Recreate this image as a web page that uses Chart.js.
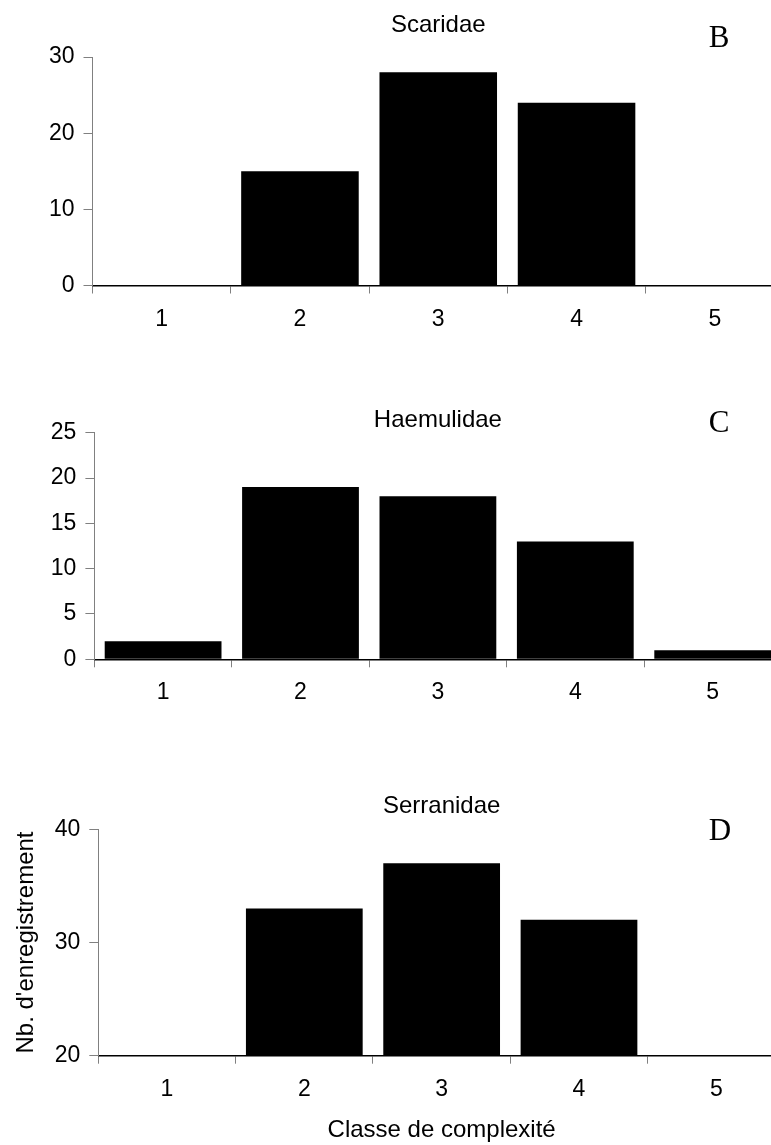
<!DOCTYPE html>
<html>
<head>
<meta charset="utf-8">
<script src="https://cdn.jsdelivr.net/npm/chart.js@4.4.0/dist/chart.umd.min.js"></script>
<style>
  html, body { margin: 0; padding: 0; background: #fff; overflow: hidden; }
  body { width: 771px; height: 1145px; position: relative; }
  canvas { position: absolute; left: 0; }
</style>
</head>
<body>
<canvas id="chartB" width="800" height="332" style="top:0px"></canvas>
<canvas id="chartC" width="800" height="355" style="top:350px"></canvas>
<canvas id="chartD" width="800" height="406" style="top:740px"></canvas>
<script>
// Complexity classes shared by the three panels
const categories = ['1', '2', '3', '4', '5'];

// Records per complexity class
const scaridae = [0, 15, 28, 24, 0];
const haemulidae = [2, 19, 18, 13, 1];
const serranidae = [0, 33, 37, 32, 0];   // classes 1 and 5 sit below the axis floor (20)

// y tick values per panel
const yTicksB = [0, 10, 20, 30];
const yTicksC = [0, 5, 10, 15, 20, 25];
const yTicksD = [20, 30, 40];

const SANS = '"Liberation Sans", Arial, sans-serif';
const SERIF = '"Liberation Serif", "Times New Roman", serif';

// Panel letter (B, C, D) in the upper right corner
const panelLetter = {
  id: 'panelLetter',
  afterDraw(chart, args, opts) {
    const ctx = chart.ctx;
    ctx.save();
    ctx.font = '31px ' + SERIF;
    ctx.fillStyle = '#000';
    ctx.textAlign = 'center';
    ctx.textBaseline = 'alphabetic';
    ctx.fillText(opts.text, opts.x, opts.y);
    ctx.restore();
  },
};

function makePanel(id, values, yTicks, o) {
  return new Chart(document.getElementById(id), {
    type: 'bar',
    data: {
      labels: categories,
      datasets: [{
        data: values,
        backgroundColor: '#000',
        borderWidth: 0,
        barPercentage: 0.85,
        categoryPercentage: 1,
        clip: 0,
      }],
    },
    options: {
      responsive: false,
      animation: false,
      devicePixelRatio: 1,
      layout: { padding: { top: 0, left: 0, right: o.right, bottom: o.bottom } },
      plugins: {
        legend: { display: false },
        tooltip: { enabled: false },
        title: {
          display: true, text: o.title, fullSize: false, color: '#000',
          font: { family: SANS, size: 24, weight: 'normal', lineHeight: 1 },
          padding: { top: o.titleTop, bottom: o.titleBottom },
        },
        panelLetter: { text: o.letter, x: o.lx, y: o.ly },
      },
      scales: {
        x: {
          afterFit: s => { s.height = o.xHeight; },
          grid: { offset: true, drawOnChartArea: false, drawTicks: true, tickLength: 8, color: '#808080', lineWidth: 1 },
          border: { color: '#000', width: 1.5 },
          ticks: { color: '#000', font: { family: SANS, size: 23, lineHeight: 1 }, padding: o.xPad, maxRotation: 0 },
          title: o.xTitle
            ? { display: true, text: o.xTitle, color: '#000', font: { family: SANS, size: 24, lineHeight: 1 }, padding: { top: 17, bottom: 3 } }
            : { display: false },
        },
        y: {
          min: yTicks[0],
          max: yTicks[yTicks.length - 1],
          afterBuildTicks: s => { s.ticks = yTicks.map(v => ({ value: v })); },
          afterFit: s => { s.width = o.left; },
          grid: { drawOnChartArea: false, drawTicks: true, tickLength: 9, color: '#808080', lineWidth: 1 },
          border: { color: '#808080', width: 1 },
          ticks: { color: '#000', font: { family: SANS, size: 23, lineHeight: 1 }, padding: 9 },
          title: o.yTitle
            ? { display: true, text: o.yTitle, color: '#000', font: { family: SANS, size: 24, lineHeight: 1 }, padding: { top: 14.5, bottom: 0 } }
            : { display: false },
        },
      },
    },
    plugins: [panelLetter],
  });
}

makePanel('chartB', scaridae, yTicksB, {
  title: 'Scaridae', letter: 'B', lx: 719, ly: 46.5,
  left: 92.5, right: 16, bottom: 0.5, titleTop: 13, titleBottom: 20, xPad: 15, xHeight: 46,
});

makePanel('chartC', haemulidae, yTicksC, {
  title: 'Haemulidae', letter: 'C', lx: 719, ly: 82,
  left: 94.4, right: 18.6, bottom: 0.5, titleTop: 58, titleBottom: 0.7, xPad: 14.2, xHeight: 45.2,
});

makePanel('chartD', serranidae, yTicksD, {
  title: 'Serranidae', letter: 'D', lx: 720, ly: 100,
  left: 98.3, right: 15, bottom: 0.5, titleTop: 54, titleBottom: 11.3, xPad: 14.8, xHeight: 89.8,
  xTitle: 'Classe de complexité', yTitle: "Nb. d'enregistrement",
});
</script>
</body>
</html>
